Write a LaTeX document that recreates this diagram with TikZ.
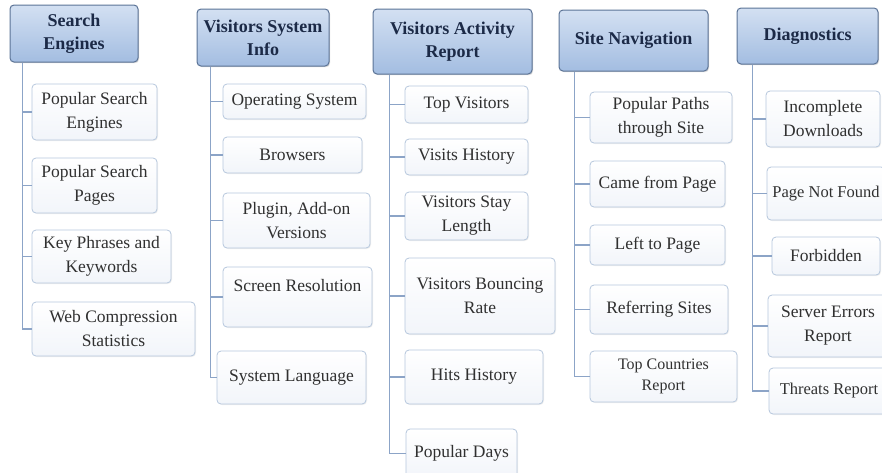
\documentclass[tikz,border=0pt]{standalone}
\usepackage{fontspec}
\setmainfont{Liberation Serif}
\usepackage{xcolor}
\usepackage{tikz}
\usetikzlibrary{shadows}

\definecolor{headline}{HTML}{5B7396}
\definecolor{headtop}{HTML}{D3E0F2}
\definecolor{headbot}{HTML}{A3BDE1}
\definecolor{headtext}{HTML}{1C2A47}
\definecolor{itemline}{HTML}{B6C7DD}
\definecolor{itembot}{HTML}{F2F5FA}
\definecolor{itemtext}{HTML}{303030}
\definecolor{linkcol}{HTML}{8CA4C7}

\begin{document}
\begin{tikzpicture}[x=1pt, y=-1pt,
    head/.style={draw=headline, line width=1pt, rounded corners=4pt,
        top color=headtop, bottom color=headbot, text=headtext,
        font=\fontsize{18}{23}\selectfont\bfseries, align=center, inner sep=2pt,
        drop shadow={opacity=0.3, shadow xshift=1pt, shadow yshift=-1.2pt}},
    item/.style={draw=itemline, line width=0.8pt, rounded corners=4pt,
        top color=white, bottom color=itembot, text=itemtext,
        font=\fontsize{17.5}{24}\selectfont, align=center, inner sep=2pt,
        drop shadow={opacity=0.12, shadow xshift=1pt, shadow yshift=-1pt}},
    link/.style={draw=linkcol, line width=1.5pt}]

    \useasboundingbox (0,0) rectangle (882,472);
    \clip (0,0) rectangle (882,472);

    % Search Engines
    \node[head, minimum width=128, minimum height=57] (h1) at (74,33.5) {Search\\Engines};
    \node[item, minimum width=125, minimum height=56] (se1) at (94.5,112) {Popular Search\\Engines};
    \node[item, minimum width=125, minimum height=55] (se2) at (94.5,185.5) {Popular Search\\Pages};
    \node[item, minimum width=139, minimum height=53] (se3) at (101.5,256.5) {Key Phrases and\\Keywords};
    \node[item, minimum width=163, minimum height=54] (se4) at (113.5,329) {Web Compression\\Statistics};

    % Visitors System Info
    \node[head, minimum width=132, minimum height=57] (h2) at (263,37.5) {Visitors System\\Info};
    \node[item, minimum width=143, minimum height=35] (os) at (294.5,101.5) {Operating System};
    \node[item, minimum width=139, minimum height=36] (br) at (292.5,155) {Browsers};
    \node[item, minimum width=147, minimum height=55] (pl) at (296.5,220.5) {Plugin, Add-on\\Versions};
    \node[item, minimum width=149, minimum height=60] (sr) at (297.5,297) {Screen Resolution\\\mbox{}};
    \node[item, minimum width=149, minimum height=53] (sl) at (291.5,377.5) {System Language};

    % Visitors Activity Report
    \node[head, minimum width=159, minimum height=65] (h3) at (452.5,41.5) {Visitors Activity\\Report};
    \node[item, minimum width=123, minimum height=37] (tv) at (466.5,104.5) {Top Visitors};
    \node[item, minimum width=123, minimum height=36] (vh) at (466.5,157) {Visits History};
    \node[item, minimum width=123, minimum height=48] (vs) at (466.5,216) {Visitors Stay\\Length};
    \node[item, minimum width=150, minimum height=76] (vb) at (480,296) {Visitors Bouncing\\Rate};
    \node[item, minimum width=138, minimum height=54] (hh) at (474,377) {Hits History};
    \node[item, minimum width=111, minimum height=49] (pd) at (461.5,453.5) {Popular Days};

    % Site Navigation
    \node[head, minimum width=149, minimum height=61] (h4) at (633.5,40.5) {Site Navigation};
    \node[item, minimum width=142, minimum height=51] (pp) at (661,117.5) {Popular Paths\\through Site};
    \node[item, minimum width=135, minimum height=46] (cf) at (657.5,184) {Came from Page};
    \node[item, minimum width=135, minimum height=40] (lp) at (657.5,245) {Left to Page};
    \node[item, minimum width=138, minimum height=49] (rs) at (659,309.5) {Referring Sites};
    \node[item, minimum width=147, minimum height=51, font=\fontsize{16}{21}\selectfont] (tc) at (663.5,376.5) {Top Countries\\Report};

    % Diagnostics
    \node[head, minimum width=141, minimum height=56] (h5) at (807.5,36) {Diagnostics};
    \node[item, minimum width=114, minimum height=56] (id) at (823,119) {Incomplete\\Downloads};
    \node[item, minimum width=118, minimum height=53, font=\fontsize{16.5}{22}\selectfont] (pn) at (826,193.5) {Page Not Found};
    \node[item, minimum width=108, minimum height=38] (fb) at (826,256) {Forbidden};
    \node[item, minimum width=120, minimum height=62] (sv) at (828,326) {Server Errors\\Report};
    \node[item, minimum width=120, minimum height=46, font=\fontsize{16.5}{22}\selectfont] (tr) at (829,391) {Threats Report};

    % trunks under the headers
    \coordinate (t1) at ([xshift=13pt]h1.south west);
    \coordinate (t2) at ([xshift=14pt]h2.south west);
    \coordinate (t3) at ([xshift=17pt]h3.south west);
    \coordinate (t4) at ([xshift=16pt]h4.south west);
    \coordinate (t5) at ([xshift=16pt]h5.south west);

    % Draw the connectors
    \draw[link] (t1) |- (se4.west);
    \foreach \n in {se1,se2,se3} \draw[link] (t1 |- \n.west) -- (\n.west);
    \draw[link] (t2) |- (sl.west);
    \foreach \n in {os,br,pl,sr} \draw[link] (t2 |- \n.west) -- (\n.west);
    \draw[link] (t3) |- (pd.west);
    \foreach \n in {tv,vh,vs,vb,hh} \draw[link] (t3 |- \n.west) -- (\n.west);
    \draw[link] (t4) |- (tc.west);
    \foreach \n in {pp,cf,lp,rs} \draw[link] (t4 |- \n.west) -- (\n.west);
    \draw[link] (t5) |- (tr.west);
    \foreach \n in {id,pn,fb,sv} \draw[link] (t5 |- \n.west) -- (\n.west);
\end{tikzpicture}
\end{document}
